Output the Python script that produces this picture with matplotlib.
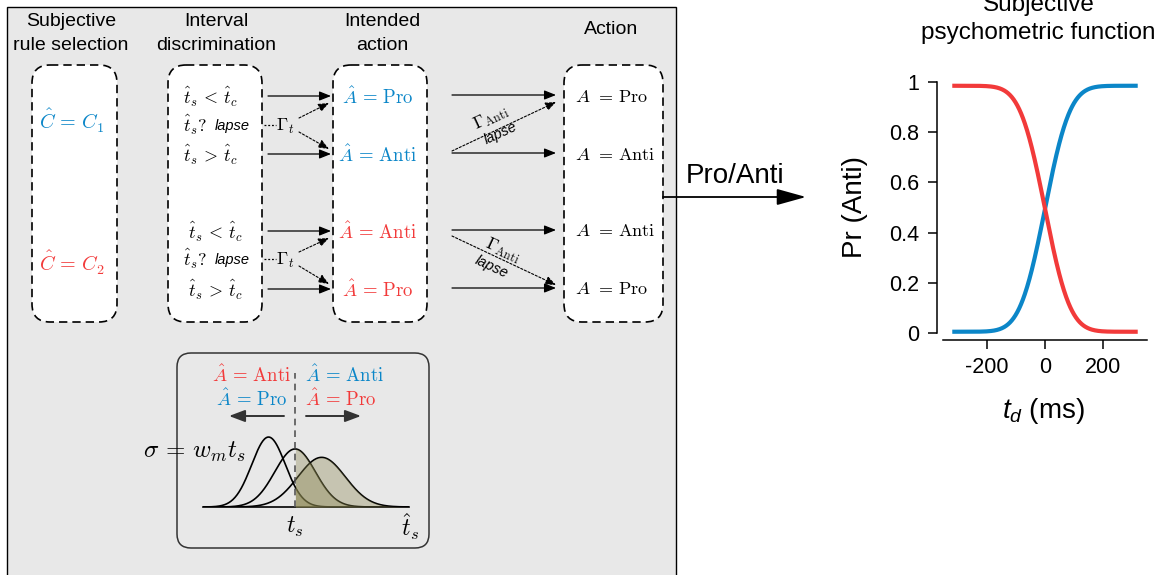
import math
import numpy as np
import matplotlib
matplotlib.use('Agg')
import matplotlib.pyplot as plt
from matplotlib.patches import FancyBboxPatch, Rectangle, FancyArrowPatch

plt.rcParams['font.family'] = ['Liberation Sans', 'DejaVu Sans']
plt.rcParams['mathtext.fontset'] = 'cm'
plt.rcParams['mathtext.rm'] = 'Liberation Sans'
plt.rcParams['mathtext.it'] = 'Liberation Sans:italic'

BLUE = '#0b86c8'
RED = '#f23a3a'
PANEL = '#e8e8e8'
OLIVE = '#8a8650'

# --- data ---
rule_labels = [r'$\hat{C}\,=\,C_1$', r'$\hat{C}\,=\,C_2$']
rule_colors = [BLUE, RED]
intended_labels = ['Pro', 'Anti', 'Anti', 'Pro']
intended_colors = [BLUE, BLUE, RED, RED]
action_labels = ['Pro', 'Anti', 'Anti', 'Pro']

# schematic measurement noise (scalar): means in units of t_s
ts_means = [0.83, 1.0, 1.17]
w_m = 0.13

# subjective psychometric function
td_min, td_max = -320, 320
td_sigma = 68.0
p_floor, p_ceil = 0.005, 0.985

fig = plt.figure(figsize=(11.64, 5.75), dpi=100)
ax = fig.add_axes([0, 0, 1, 1])
ax.set_xlim(0, 1164)
ax.set_ylim(575, 0)
ax.axis('off')


def arrow(x0, y0, x1, y1, ls='-', lw=0.9, ms=10, hl=0.7, hw=0.28, color='black'):
    a = FancyArrowPatch((x0, y0), (x1, y1),
                        arrowstyle=f'-|>,head_length={hl},head_width={hw}',
                        mutation_scale=ms, lw=lw, linestyle=ls, color=color,
                        shrinkA=0, shrinkB=0, zorder=4)
    ax.add_patch(a)


def rbox(x0, x1, y0, y1):
    b = FancyBboxPatch((x0, y0), x1 - x0, y1 - y0,
                       boxstyle='round,pad=0,rounding_size=18',
                       facecolor='white', edgecolor='black', lw=1.2,
                       linestyle=(0, (5, 3)), zorder=2)
    ax.add_patch(b)


# grey panel
ax.add_patch(Rectangle((7, 7), 669, 600, facecolor=PANEL, edgecolor='black', lw=1, zorder=0))

# column headers
hfs = 14
for x, lines in [(71, ['Subjective', 'rule selection']),
                 (216, ['Interval', 'discrimination']),
                 (382, ['Intended', 'action'])]:
    ax.text(x, 22, lines[0], ha='center', va='center', fontsize=hfs)
    ax.text(x, 45, lines[1], ha='center', va='center', fontsize=hfs)
ax.text(611, 29, 'Action', ha='center', va='center', fontsize=hfs)

# dashed boxes
rbox(32, 117, 65, 322)
rbox(168, 262, 65, 322)
rbox(333, 427, 65, 322)
rbox(564, 663, 65, 322)

mfs = 13.5
rows_y = [97, 155, 232, 290]
lapse_y = [125, 259]

# rule selection
for lab, c, y in zip(rule_labels, rule_colors, [121, 263]):
    ax.text(72, y, lab, ha='center', va='center', fontsize=14.5, color=c, zorder=5)

# interval discrimination
for i, (xc, ly) in enumerate([(210, lapse_y[0]), (215, lapse_y[1])]):
    ax.text(xc, rows_y[2 * i], r'$\hat{t}_s\,<\,\hat{t}_c$', ha='center', va='center', fontsize=13, zorder=5)
    ax.text(xc, rows_y[2 * i + 1], r'$\hat{t}_s\,>\,\hat{t}_c$', ha='center', va='center', fontsize=13, zorder=5)
    ax.text(183, ly, r'$\hat{t}_s ?$', ha='left', va='center', fontsize=13, zorder=5)
    ax.text(215, ly + 1, 'lapse', ha='left', va='center', fontsize=10.5, style='italic', zorder=5)
    # lapse -> Gamma_t
    ax.plot([264, 276], [ly, ly], color='black', lw=0.9, ls=(0, (1.5, 1.5)), zorder=4)
    ax.text(285, ly + 1, r'$\Gamma_t$', ha='center', va='center', fontsize=13, zorder=5)
    arrow(299, ly - 7, 329, rows_y[2 * i] + 6, ls=(0, (2, 1.6)), lw=0.8, ms=9)
    arrow(299, ly + 7, 329, rows_y[2 * i + 1] - 6, ls=(0, (2, 1.6)), lw=0.8, ms=9)
    for y in rows_y[2 * i:2 * i + 2]:
        arrow(268, y - 1, 331, y - 1)

# intended action
for lab, c, y in zip(intended_labels, intended_colors, rows_y):
    ax.text(378, y, r'$\hat{A}\,=\,\mathrm{' + lab + '}$', ha='center', va='center',
            fontsize=mfs, color=c, zorder=5)
    arrow(452, y - 2, 556, y - 2)

# lapses to the opposite action
arrow(452, 151, 556, 102, ls=(0, (2, 1.6)), lw=0.8, ms=9)
ax.text(491, 118, r'$\Gamma_{\mathrm{Anti}}$', rotation=25, ha='center', va='center', fontsize=12.5, zorder=5)
ax.text(501, 133, 'lapse', rotation=25, ha='center', va='center', fontsize=10.5, style='italic', zorder=5)
arrow(452, 236, 556, 285, ls=(0, (2, 1.6)), lw=0.8, ms=9)
ax.text(503, 250, r'$\Gamma_{\mathrm{Anti}}$', rotation=-25, ha='center', va='center', fontsize=12.5, zorder=5)
ax.text(492, 267, 'lapse', rotation=-25, ha='center', va='center', fontsize=10.5, style='italic', zorder=5)

# action
for lab, y in zip(action_labels, rows_y):
    ax.text(575, y, r'$A$', ha='left', va='center', fontsize=mfs, zorder=5)
    ax.text(595, y, r'$=\,\mathrm{' + lab + '}$', ha='left', va='center', fontsize=13, zorder=5)

# output arrow
arrow(663, 197, 806, 197, lw=1.3, ms=20, hl=0.9, hw=0.25)
ax.text(735, 176, 'Pro/Anti', ha='center', va='center', fontsize=20)

# inset explaining the decision
ax.add_patch(FancyBboxPatch((177, 353), 252, 195, boxstyle='round,pad=0,rounding_size=14',
                            facecolor=PANEL, edgecolor='#333333', lw=1.1, zorder=1))
ax.text(252, 375, r'$\hat{A}\,=\,\mathrm{Anti}$', ha='center', va='center', fontsize=mfs, color=RED)
ax.text(252, 399, r'$\hat{A}\,=\,\mathrm{Pro}$', ha='center', va='center', fontsize=mfs, color=BLUE)
ax.text(345, 375, r'$\hat{A}\,=\,\mathrm{Anti}$', ha='center', va='center', fontsize=mfs, color=BLUE)
ax.text(341, 399, r'$\hat{A}\,=\,\mathrm{Pro}$', ha='center', va='center', fontsize=mfs, color=RED)
arrow(284, 416, 229, 416, lw=1.4, color='#333333', ms=12, hl=0.8, hw=0.3)
arrow(306, 416, 361, 416, lw=1.4, color='#333333', ms=12, hl=0.8, hw=0.3)
ax.text(246, 452, r'$\sigma\,=\,w_m t_s$', ha='right', va='center', fontsize=18)

# gaussian measurement distributions
axg = fig.add_axes([203 / 1164, (575 - 507) / 575, 206 / 1164, 77 / 575])
axg.patch.set_alpha(0)
u = np.linspace(0.41, 1.73, 400)
axg.set_xlim(u[0], u[-1])
axg.set_ylim(0, 4.07)
for m in ts_means:
    s = w_m * m
    pdf = np.exp(-0.5 * ((u - m) / s) ** 2) / (s * math.sqrt(2 * math.pi))
    axg.plot(u, pdf, color='black', lw=1.2, zorder=2)
    sel = u >= 1.0
    axg.fill_between(u[sel], 0, pdf[sel], color=OLIVE, alpha=0.36, lw=0, zorder=3)
axg.plot([1.0, 1.0], [0, 7.1], color='#555555', lw=1.2, ls=(0, (4, 3)), clip_on=False, zorder=4)
for side in ['left', 'right', 'top']:
    axg.spines[side].set_visible(False)
axg.spines['bottom'].set_linewidth(1.2)
axg.set_xticks([])
axg.set_yticks([])
axg.text(1.0, -1.06, r'$t_s$', ha='center', va='center', fontsize=17)
axg.text(1.737, -1.06, r'$\hat{t}_s$', ha='center', va='center', fontsize=17)

# subjective psychometric function
axp = fig.add_axes([943 / 1164, (575 - 333) / 575, 204 / 1164, 251 / 575])
td = np.linspace(td_min, td_max, 400)
phi = np.array([0.5 * (1 + math.erf(t / (td_sigma * math.sqrt(2)))) for t in td])
p_blue = p_floor + (p_ceil - p_floor) * phi
p_red = p_floor + (p_ceil - p_floor) * (1 - phi)
axp.plot(td, p_blue, color=BLUE, lw=3, clip_on=False, solid_capstyle='butt')
axp.plot(td, p_red, color=RED, lw=3, clip_on=False, solid_capstyle='butt')
axp.set_xlim(-352, 352)
axp.set_ylim(0, 1)
for side in ['right', 'top']:
    axp.spines[side].set_visible(False)
axp.spines['left'].set_position(('outward', 4.5))
axp.spines['bottom'].set_position(('outward', 5))
axp.spines['left'].set_bounds(0, 1)
for side in ['left', 'bottom']:
    axp.spines[side].set_linewidth(1.1)
axp.set_yticks([0, 0.2, 0.4, 0.6, 0.8, 1])
axp.set_yticklabels(['0', '0.2', '0.4', '0.6', '0.8', '1'])
axp.set_xticks([-200, 0, 200])
axp.set_xticklabels(['-200', '0', '200'])
axp.tick_params(labelsize=15.5, length=6.5, width=1.1, pad=6)
axp.set_ylabel('Pr (Anti)', fontsize=20)
axp.yaxis.set_label_coords(-0.43, 0.5)
axp.yaxis.label.set_verticalalignment('center')
axp.set_xlabel(r'$t_d$ (ms)', fontsize=20, math_fontfamily='custom')
axp.xaxis.set_label_coords(0.49, -0.31)
axp.xaxis.label.set_verticalalignment('center')
fig.text(1038.5 / 1164, 1 - 5 / 575, 'Subjective', ha='center', va='center', fontsize=17.5)
fig.text(1038.5 / 1164, 1 - 33 / 575, 'psychometric function', ha='center', va='center', fontsize=17.5)

fig.savefig('out.png', dpi=100)
